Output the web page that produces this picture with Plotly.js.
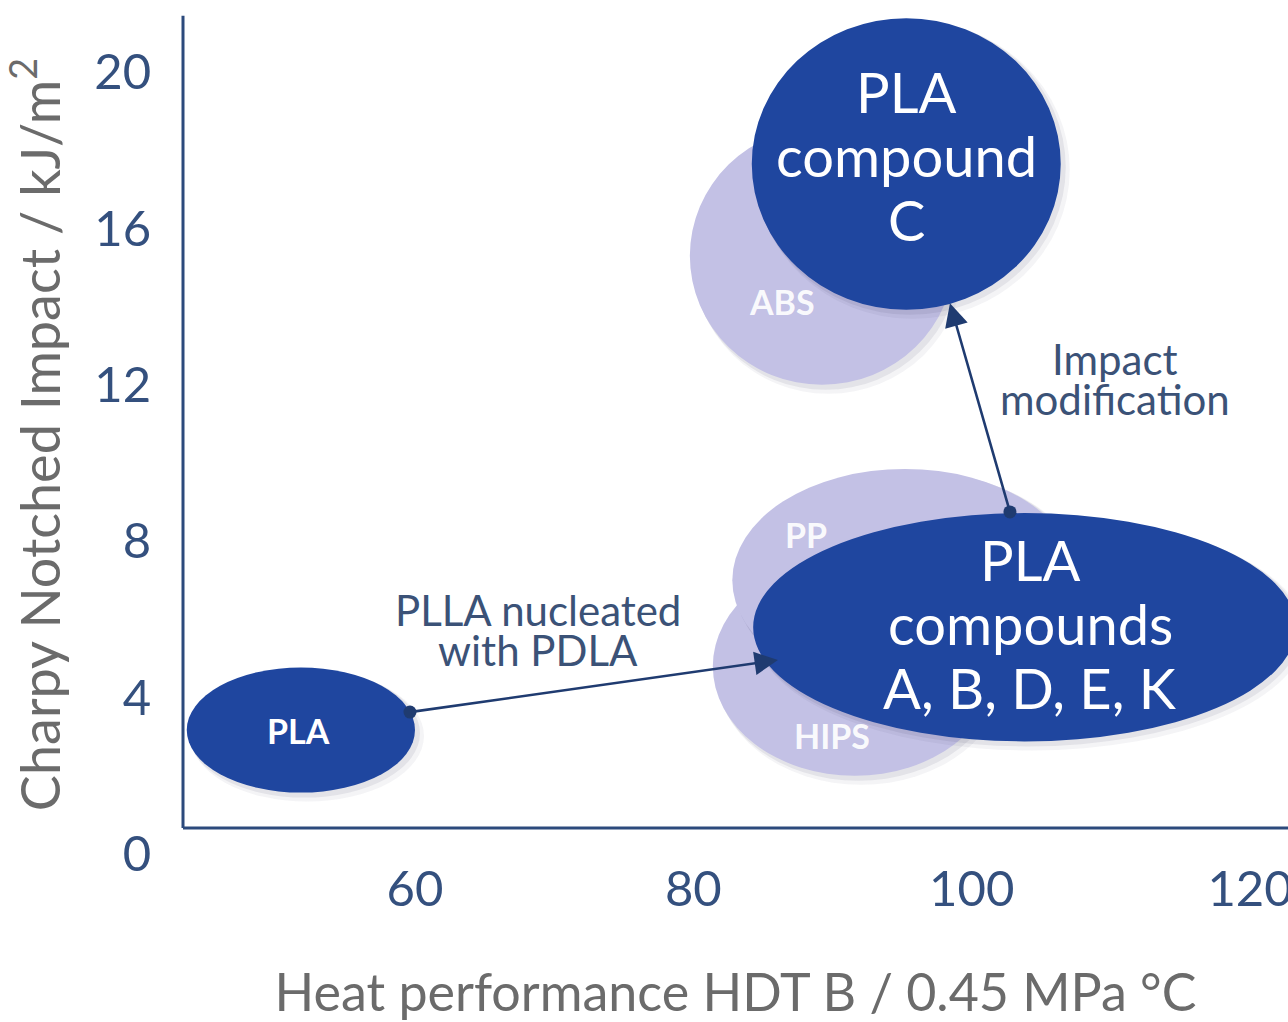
<!DOCTYPE html>
<html>
<head>
<meta charset="utf-8">
<script src="https://cdn.plot.ly/plotly-3.0.1.min.js"></script>
<style>html,body{margin:0;padding:0;background:#fff;}#chart{width:1288px;height:1022px;}</style>
</head>
<body>
<div id="chart"></div>
<script>
// ---- data ----
const regionNames = ['ABS', 'HIPS', 'PP', 'PLA', 'PLA compound C', 'PLA compounds A, B, D, E, K'];
const regionLines = [['ABS'], ['HIPS'], ['PP'], ['PLA'], ['PLA', 'compound', 'C'], ['PLA', 'compounds', 'A, B, D, E, K']];
const regionKind = ['ref', 'ref', 'ref', 'pla', 'plaBig', 'plaBig'];
const hdtCenter = [89.25, 91.6, 95.2, 51.8, 95.3, 103.8];
const hdtHalfRange = [9.5, 10.2, 12.4, 8.2, 11.1, 19.5];
const impactCenter = [15.3, 4.8, 7.0, 3.17, 17.65, 5.8];
const impactHalfRange = [3.3, 2.8, 2.85, 1.6, 3.73, 2.92];
// label anchor for the material names
const labelHdt = [86.37, 89.97, 88.1, 51.6, 95.3, 104.2];
const labelImpact = [14.12, 3.04, 8.16, 3.17, 17.65, 5.9];

const arrowTailHdt = [59.64, 102.75];
const arrowTailImpact = [3.63, 8.75];
const arrowHeadHdt = [86.08, 98.44];
const arrowHeadImpact = [4.96, 14.09];
const arrowTextLines = [['PLLA nucleated', 'with PDLA'], ['Impact', 'modification']];
const arrowTextHdt = [68.84, 110.3];
const arrowTextImpact = [5.73, 12.15];

const xTicks = [60, 80, 100, 120];
const yTicks = [0, 4, 8, 12, 16, 20];
const xTitle = 'Heat performance HDT B / 0.45 MPa °C';
const yTitle = 'Charpy Notched Impact / kJ/m<sup>2</sup>';

// ---- styling ----
const FONT = 'Lato, "Open Sans", sans-serif';
const DARK = '#1f469f';
const LIGHT = '#c3c1e5';
const NAVY = '#1f3b70';
const AXIS = '#2c4a7c';
const TEXT = '#3b5277';
const xRange = [43.33, 122.73];
const yRange = [0, 21.46];
const pxX = (xRange[1] - xRange[0]) / 1105;
const pxY = (yRange[1] - yRange[0]) / 839;

const shapes = [];
// axis lines (x-axis line sits slightly above the 0 tick)
const floorPaper = 26 / 839;
shapes.push({type: 'line', xref: 'paper', yref: 'paper', x0: 0, x1: 1, y0: floorPaper, y1: floorPaper,
  line: {color: AXIS, width: 3}, layer: 'below'});
shapes.push({type: 'line', xref: 'paper', yref: 'paper', x0: 0, x1: 0, y0: floorPaper, y1: 0.999,
  line: {color: AXIS, width: 3}, layer: 'below'});

const annotations = [];
regionNames.forEach((name, i) => {
  const cx = hdtCenter[i], cy = impactCenter[i], rx = hdtHalfRange[i], ry = impactHalfRange[i];
  // soft drop shadow
  [[9, 0.05], [5, 0.08]].forEach(([d, a]) => {
    shapes.push({type: 'circle', xref: 'x', yref: 'y', layer: 'below',
      x0: cx - rx + d * 0.4 * pxX, x1: cx + rx + d * pxX,
      y0: cy - ry - d * pxY, y1: cy + ry - d * 0.3 * pxY,
      fillcolor: `rgba(40,40,80,${a})`, line: {width: 0}});
  });
  const isRef = regionKind[i] === 'ref';
  shapes.push({type: 'circle', xref: 'x', yref: 'y', layer: 'below',
    x0: cx - rx, x1: cx + rx, y0: cy - ry, y1: cy + ry,
    fillcolor: isRef ? LIGHT : DARK, line: {width: 0}});
  const lines = regionLines[i];
  if (regionKind[i] === 'plaBig') {
    const step = 64;
    const base = i === 4 ? 8 : 0;
    lines.forEach((ln, k) => {
      annotations.push({x: labelHdt[i], y: labelImpact[i], xref: 'x', yref: 'y', text: ln, showarrow: false,
        yshift: base + ((lines.length - 1) / 2 - k) * step,
        font: {family: FONT, size: 56, color: '#ffffff'}});
    });
  } else {
    annotations.push({x: labelHdt[i], y: labelImpact[i], xref: 'x', yref: 'y', text: '<b>' + lines[0] + '</b>', showarrow: false,
      font: {family: FONT, size: 34, color: isRef ? 'rgba(255,255,255,0.92)' : '#ffffff'}});
  }
});

arrowTailHdt.forEach((t, i) => {
  annotations.push({x: arrowHeadHdt[i], y: arrowHeadImpact[i], ax: t, ay: arrowTailImpact[i],
    xref: 'x', yref: 'y', axref: 'x', ayref: 'y', text: '', showarrow: true,
    arrowhead: 2, arrowsize: 1.8, arrowwidth: 2.6, arrowcolor: NAVY, standoff: 0, startstandoff: 0});
  const tl = arrowTextLines[i];
  tl.forEach((ln, k) => {
    annotations.push({x: arrowTextHdt[i], y: arrowTextImpact[i], xref: 'x', yref: 'y', text: ln, showarrow: false,
      yshift: ((tl.length - 1) / 2 - k) * 40,
      font: {family: FONT, size: 42, color: TEXT}});
  });
});

const traces = [{
  type: 'scatter', mode: 'markers', x: arrowTailHdt, y: arrowTailImpact,
  marker: {size: 13, color: NAVY}, hoverinfo: 'skip', showlegend: false
}];

const layout = {
  width: 1288, height: 1022,
  margin: {l: 183, r: 0, t: 15, b: 168, pad: 0},
  paper_bgcolor: '#ffffff', plot_bgcolor: '#ffffff',
  showlegend: false,
  font: {family: FONT, color: TEXT},
  xaxis: {
    range: xRange, tickvals: xTicks, ticktext: xTicks.map(String),
    showgrid: false, zeroline: false, showline: false,
    ticks: '', ticklabelstandoff: 2,
    ticklabeloverflow: 'allow',
    tickfont: {family: FONT, size: 49, color: '#34507e'},
    title: {text: xTitle, standoff: 61, font: {family: FONT, size: 52, color: '#6b6b6b'}}
  },
  yaxis: {
    range: yRange, tickvals: yTicks, ticktext: yTicks.map(String),
    showgrid: false, zeroline: false, showline: false,
    ticks: 'outside', ticklen: 21, tickcolor: 'rgba(0,0,0,0)',
    tickfont: {family: FONT, size: 49, color: '#34507e'},
    title: {text: yTitle, standoff: 30, font: {family: FONT, size: 54, color: '#6b6b6b'}}
  },
  shapes: shapes,
  annotations: annotations
};

Plotly.newPlot('chart', traces, layout, {staticPlot: true, displayModeBar: false});
</script>
</body>
</html>
